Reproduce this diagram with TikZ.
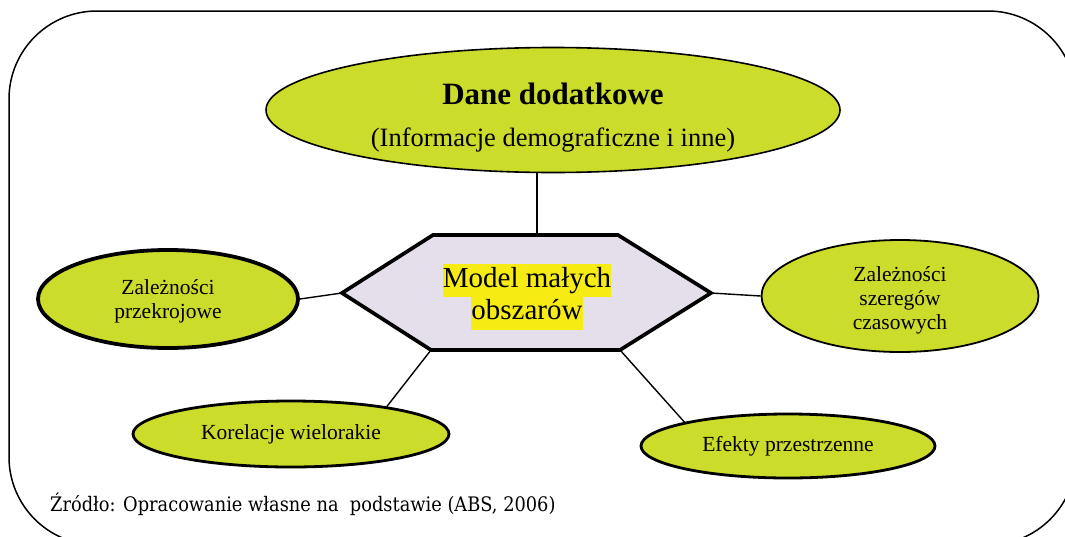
\documentclass[tikz,border=0pt]{standalone}
\usepackage{fontspec}
\setmainfont{Liberation Serif}
\newfontfamily\notefont[FakeStretch=0.89]{DejaVu Serif}
\usetikzlibrary{shapes.geometric}

\definecolor{bubblefill}{RGB}{204,220,42}
\definecolor{hexfill}{RGB}{229,223,236}
\definecolor{markyellow}{RGB}{246,236,20}

\tikzset{
  bubble/.style={ellipse, draw=black, fill=bubblefill, inner sep=0pt},
  caption/.style={inner sep=0pt, align=center, font=\fontsize{21.5}{24}\selectfont},
  link/.style={draw=black, line width=1.4pt},
}

\newcommand{\marked}[1]{{\setlength{\fboxsep}{0pt}\colorbox{markyellow}{\strut #1}}}

\begin{document}
\begin{tikzpicture}[x=1pt,y=-1pt]
\useasboundingbox (0,0) rectangle (1065,536);

% outer frame
\draw[line width=1.5pt, rounded corners=88pt] (9,11) rectangle (1076,545);

% central hexagon
\coordinate (hL)  at (342,293);
\coordinate (hTL) at (433,235);
\coordinate (hTR) at (618,235);
\coordinate (hR)  at (711,293);
\coordinate (hBR) at (620,350);
\coordinate (hBL) at (431,350);
\coordinate (hT)  at (537,235);
\draw[fill=hexfill, line width=3.7pt, line join=miter]
  (hL) -- (hTL) -- (hTR) -- (hR) -- (hBR) -- (hBL) -- cycle;
\node[inner sep=0pt, align=center, font=\fontsize{29}{33}\selectfont] (model) at (527,297)
  {\marked{Model małych}\\[-0.4pt]\marked{obszarów}};

% surrounding ellipses
\node[bubble, line width=1.6pt, minimum width=574pt, minimum height=125pt] (extra) at (553,110) {};
\node[caption, yshift=-7.5pt] (extratext) at (extra.center)
  {\fontsize{31}{36}\selectfont\bfseries Dane dodatkowe\\[18pt]
   \fontsize{26.5}{30}\selectfont(Informacje demograficzne i inne)};

\node[bubble, line width=3.8pt, minimum width=260pt, minimum height=98pt] (cross) at (168,299) {};
\node[caption, yshift=-2.5pt] (crosstext) at (cross.center) {Zależności\\przekrojowe};

\node[bubble, line width=1.8pt, minimum width=277pt, minimum height=112pt] (time) at (900,296) {};
\node[caption, yshift=-4pt] (timetext) at (time.center) {Zależności\\szeregów\\czasowych};

\node[bubble, line width=2.8pt, minimum width=316pt, minimum height=66pt] (corr) at (291,434) {};
\node[caption] (corrtext) at (corr.center) {Korelacje wielorakie};

\node[bubble, line width=2.8pt, minimum width=294pt, minimum height=64pt] (space) at (788,446) {};
\node[caption] (spacetext) at (space.center) {Efekty przestrzenne};

% connectors
\draw[link] (hT) -- (hT |- extra.south);
\draw[link] (cross.east) -- (hL);
\draw[link] (hR) -- (time.west);
\draw[link] (hBL) -- (corr.16);
\draw[link] (hBR) -- (space.167);

% source note
\node[anchor=base west, inner sep=0pt, font=\notefont\fontsize{20}{24}\selectfont] (note) at (50,511)
  {Źródło: Opracowanie własne na\ \ podstawie (ABS, 2006)};
\end{tikzpicture}
\end{document}
